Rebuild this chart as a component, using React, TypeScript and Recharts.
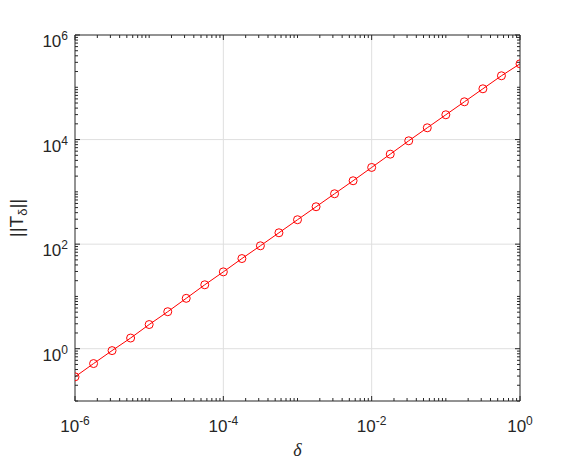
import { LineChart, Line, XAxis, YAxis, ReferenceLine } from "recharts";

// delta values (x) and ||T_delta|| values (y)
const deltaValues = [
    1e-6, 1.78e-6, 3.16e-6, 5.62e-6, 1e-5, 1.78e-5, 3.16e-5, 5.62e-5, 1e-4,
    1.78e-4, 3.16e-4, 5.62e-4, 1e-3, 1.78e-3, 3.16e-3, 5.62e-3, 1e-2,
    1.78e-2, 3.16e-2, 5.62e-2, 0.1, 0.178, 0.316, 0.562, 1,
];
const normValues = [
    0.29, 0.52, 0.92, 1.6, 2.9, 5.1, 9.2, 16.7, 29.5, 53, 93, 165, 293, 519,
    920, 1630, 2930, 5260, 9480, 16800, 29800, 52800, 93600, 166000, 281000,
];

const xLabelTicks = [1e-6, 1e-4, 1e-2, 1];
const yLabelTicks = [1, 100, 1e4, 1e6];
const xDomain = [1e-6, 1];
const yDomain = [0.1, 1e6];

const data = deltaValues.map((d, i) => ({ delta: d, norm: normValues[i] }));

// all decade sub-ticks (1..9 x 10^e) between min and max
function logTicks(min: number, max: number) {
    const out: number[] = [];
    const lo = Math.round(Math.log10(min));
    const hi = Math.round(Math.log10(max));
    for (let e = lo; e < hi; e++) {
        for (let k = 1; k < 10; k++) out.push(k * Math.pow(10, e));
    }
    out.push(max);
    return out;
}

const xTicks = logTicks(xDomain[0], xDomain[1]);
const yTicks = logTicks(yDomain[0], yDomain[1]);

const W = 576;
const H = 461;
const MARGIN = { top: 25, right: 36, bottom: 30, left: 35 };
const PLOT_LEFT = 75;
const PLOT_RIGHT = 520;
const PLOT_TOP = 35;
const PLOT_BOTTOM = 401;

const AXIS = "#262626";
const GRID = "#dfdfdf";
const FONT = "'Liberation Sans', Arial, sans-serif";

const isLabelled = (v: number, list: number[]) =>
    list.some((t) => Math.abs(Math.log10(t) - Math.log10(v)) < 1e-6);

const exponent = (v: number) => Math.round(Math.log10(v));

function XTick(props: any) {
    const { x, y, payload, side } = props;
    const v = payload.value;
    const major = isLabelled(v, xLabelTicks);
    const len = major ? 5 : 3;
    const dir = side === "bottom" ? -1 : 1;
    return (
        <g>
            <line x1={x} y1={y} x2={x} y2={y + dir * len} stroke={AXIS} strokeWidth={1} />
            {major && side === "bottom" && (
                <text x={x} y={y + 31} textAnchor="middle" fill={AXIS} fontFamily={FONT} fontSize={17}>
                    <tspan>10</tspan>
                    <tspan dy={-7} fontSize={12}>{exponent(v)}</tspan>
                </text>
            )}
        </g>
    );
}

function YTick(props: any) {
    const { x, y, payload, side } = props;
    const v = payload.value;
    const major = isLabelled(v, yLabelTicks);
    const len = major ? 5 : 3;
    const dir = side === "left" ? 1 : -1;
    return (
        <g>
            <line x1={x} y1={y} x2={x + dir * len} y2={y} stroke={AXIS} strokeWidth={1} />
            {major && side === "left" && (
                <text x={x - 7} y={y + 12} textAnchor="end" fill={AXIS} fontFamily={FONT} fontSize={17}>
                    <tspan>10</tspan>
                    <tspan dy={-7} fontSize={12}>{exponent(v)}</tspan>
                </text>
            )}
        </g>
    );
}

// axis titles drawn on an overlay svg
function AxisTitles() {
    const cx = (PLOT_LEFT + PLOT_RIGHT) / 2;
    const cy = (PLOT_TOP + PLOT_BOTTOM) / 2;
    return (
        <svg
            width={W}
            height={H}
            style={{ position: "absolute", left: 0, top: 0, pointerEvents: "none" }}
        >
            <text
                transform={`translate(23, ${cy}) rotate(-90)`}
                textAnchor="middle"
                fill={AXIS}
                fontFamily={FONT}
                fontSize={19}
            >
                <tspan>||T</tspan>
                <tspan dy={4} fontSize={13}>δ</tspan>
                <tspan dy={-4}>||</tspan>
            </text>
            <text
                x={cx}
                y={456}
                textAnchor="middle"
                fill={AXIS}
                fontFamily="'Liberation Serif', 'Times New Roman', serif"
                fontStyle="italic"
                fontSize={18}
            >
                δ
            </text>
        </svg>
    );
}

export default function App() {
    return (
        <div style={{ position: "absolute", left: 0, top: 0, width: W, height: H, background: "#fff" }}>
            <LineChart width={W} height={H} data={data} margin={MARGIN}>
                <XAxis
                    xAxisId="b"
                    dataKey="delta"
                    type="number"
                    scale="log"
                    domain={xDomain}
                    allowDataOverflow
                    ticks={xTicks}
                    interval={0}
                    height={30}
                    tickSize={0}
                    tickMargin={0}
                    stroke={AXIS}
                    tick={<XTick side="bottom" />}
                />
                <XAxis
                    xAxisId="t"
                    orientation="top"
                    dataKey="delta"
                    type="number"
                    scale="log"
                    domain={xDomain}
                    allowDataOverflow
                    ticks={xTicks}
                    interval={0}
                    height={10}
                    tickSize={0}
                    tickMargin={0}
                    stroke={AXIS}
                    tick={<XTick side="top" />}
                />
                <YAxis
                    yAxisId="l"
                    type="number"
                    scale="log"
                    domain={yDomain}
                    allowDataOverflow
                    ticks={yTicks}
                    interval={0}
                    width={40}
                    tickSize={0}
                    tickMargin={0}
                    stroke={AXIS}
                    tick={<YTick side="left" />}
                />
                <YAxis
                    yAxisId="r"
                    orientation="right"
                    type="number"
                    scale="log"
                    domain={yDomain}
                    allowDataOverflow
                    ticks={yTicks}
                    interval={0}
                    width={20}
                    tickSize={0}
                    tickMargin={0}
                    stroke={AXIS}
                    tick={<YTick side="right" />}
                />
                {xLabelTicks.slice(1, -1).map((v) => (
                    <ReferenceLine key={`gx-${v}`} xAxisId="b" yAxisId="l" x={v} stroke={GRID} strokeWidth={1} />
                ))}
                {yLabelTicks.slice(0, -1).map((v) => (
                    <ReferenceLine key={`gy-${v}`} xAxisId="b" yAxisId="l" y={v} stroke={GRID} strokeWidth={1} />
                ))}
                <Line
                    xAxisId="b"
                    yAxisId="l"
                    type="linear"
                    dataKey="norm"
                    stroke="#ff0000"
                    strokeWidth={1}
                    dot={{ r: 4, fill: "none", stroke: "#ff0000", strokeWidth: 1 }}
                    activeDot={false}
                    isAnimationActive={false}
                />
            </LineChart>
            <AxisTitles />
        </div>
    );
}
